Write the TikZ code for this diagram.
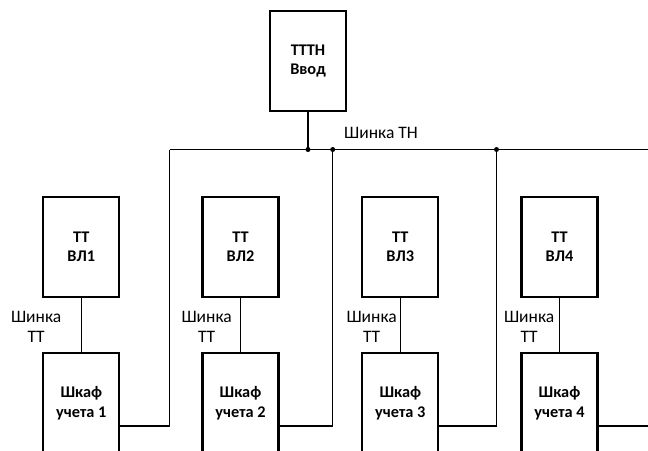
\documentclass[tikz,border=0pt]{standalone}
\usepackage{fontspec}
\setmainfont{Carlito}
\begin{document}
\begin{tikzpicture}[x=1pt,y=-1pt,
  box/.style={draw,line width=2.2pt,minimum width=76pt,minimum height=100pt,align=center,inner sep=0pt,font=\fontsize{16.3}{19.5}\selectfont\bfseries},
  wire/.style={line width=1.1pt},
  lbl/.style={font=\fontsize{17.5}{20}\selectfont,align=center,inner sep=0pt},
  dot/.style={circle,fill,inner sep=0pt,minimum size=5pt}]
\useasboundingbox (0,0) rectangle (648,450);
% top box
\node[box] (in) at (308,61) {ТТТН\\Ввод};
% bus
\coordinate (busL) at (169.5,149.5);
\coordinate (busR) at (648,149.5);
\node[dot] (d0) at (308,149.5) {};
\node[dot] (d2) at (332.7,149.5) {};
\node[dot] (d4) at (496.5,149.5) {};
\draw[wire] (busL) -- (busR);
\draw[wire] (in.south) -- (d0.center);
\node[lbl,anchor=west] (busTN) at (344,132.5) {Шинка ТН};
% TT boxes
\foreach \i/\x in {1/81.3,2/240.5,3/400.3,4/559.5}{
  \node[box] (tt\i) at (\x,247) {ТТ\\ВЛ\i};
  \node[box] (sh\i) at (\x,403) {Шкаф\\учета \i};
  \draw[wire] (tt\i.south) -- (sh\i.north);
}
\node[lbl,anchor=east] (l1) at (61.5,327) {Шинка\\ТТ};
\node[lbl,anchor=east] (l2) at (232,327) {Шинка\\ТТ};
\node[lbl,anchor=east] (l3) at (397,327) {Шинка\\ТТ};
\node[lbl,anchor=east] (l4) at (554.5,327) {Шинка\\ТТ};
% returns
\coordinate (c1) at (169.5,426);
\coordinate (c2) at (332.7,426);
\coordinate (c3) at (496.5,426);
\coordinate (c4) at (648,426);
\draw[wire] (busL) -- (c1) -- (c1 -| sh1.east);
\draw[wire] (d2.center) -- (c2) -- (c2 -| sh2.east);
\draw[wire] (d4.center) -- (c3) -- (c3 -| sh3.east);
\draw[wire] (c4) -- (c4 -| sh4.east);
\end{tikzpicture}
\end{document}
